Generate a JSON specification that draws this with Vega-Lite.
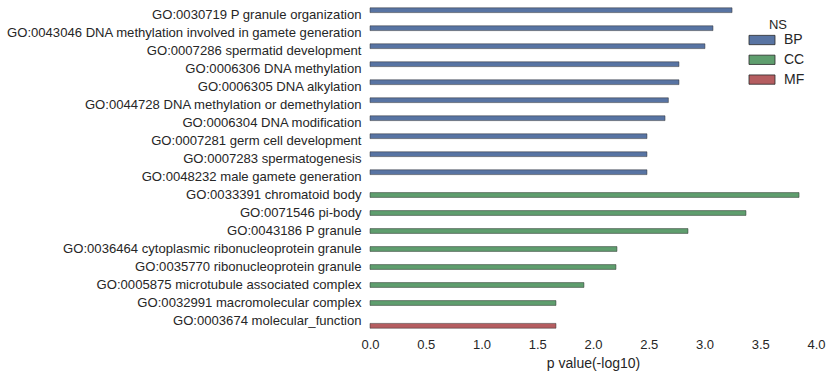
{
  "$schema": "https://vega.github.io/schema/vega-lite/v6.json",
  "width": 446,
  "height": 324,
  "autosize": {"type": "none"},
  "padding": {"left": 370, "top": 6, "right": 16, "bottom": 49},
  "config": {
    "view": {"stroke": null},
    "font": "Liberation Sans",
    "background": "white"
  },
  "data": {
    "values": [
      {"term": "GO:0030719 P granule organization", "NS": "BP", "p": 3.247},
      {"term": "GO:0043046 DNA methylation involved in gamete generation", "NS": "BP", "p": 3.076},
      {"term": "GO:0007286 spermatid development", "NS": "BP", "p": 3.004},
      {"term": "GO:0006306 DNA methylation", "NS": "BP", "p": 2.771},
      {"term": "GO:0006305 DNA alkylation", "NS": "BP", "p": 2.771},
      {"term": "GO:0044728 DNA methylation or demethylation", "NS": "BP", "p": 2.676},
      {"term": "GO:0006304 DNA modification", "NS": "BP", "p": 2.646},
      {"term": "GO:0007281 germ cell development", "NS": "BP", "p": 2.484},
      {"term": "GO:0007283 spermatogenesis", "NS": "BP", "p": 2.484},
      {"term": "GO:0048232 male gamete generation", "NS": "BP", "p": 2.484},
      {"term": "GO:0033391 chromatoid body", "NS": "CC", "p": 3.848},
      {"term": "GO:0071546 pi-body", "NS": "CC", "p": 3.372},
      {"term": "GO:0043186 P granule", "NS": "CC", "p": 2.852},
      {"term": "GO:0036464 cytoplasmic ribonucleoprotein granule", "NS": "CC", "p": 2.215},
      {"term": "GO:0035770 ribonucleoprotein granule", "NS": "CC", "p": 2.206},
      {"term": "GO:0005875 microtubule associated complex", "NS": "CC", "p": 1.919},
      {"term": "GO:0032991 macromolecular complex", "NS": "CC", "p": 1.668},
      {"term": "GO:0003674 molecular_function", "NS": "MF", "p": 1.668}
    ]
  },
  "mark": {"type": "bar", "stroke": "#2a2a2a", "strokeWidth": 0.8, "strokeOpacity": 0.6},
  "encoding": {
    "y": {
      "field": "term",
      "type": "nominal",
      "sort": null,
      "scale": {"paddingInner": 0.2, "paddingOuter": 0.1},
      "axis": {
        "title": null,
        "domain": false,
        "ticks": false,
        "labelPadding": 9,
        "labelFontSize": 13.1,
        "labelColor": "#262626",
        "labelLimit": 400
      }
    },
    "yOffset": {
      "field": "NS",
      "type": "nominal",
      "scale": {"domain": ["BP", "CC", "MF"], "paddingInner": 0, "paddingOuter": 0}
    },
    "x": {
      "field": "p",
      "type": "quantitative",
      "scale": {"domain": [0, 4], "nice": false},
      "axis": {
        "title": "p value(-log10)",
        "values": [0, 0.5, 1, 1.5, 2, 2.5, 3, 3.5, 4],
        "format": ".1f",
        "domain": false,
        "ticks": false,
        "grid": false,
        "labelPadding": 8,
        "labelFontSize": 13,
        "labelColor": "#262626",
        "labelFlush": false,
        "titleFontSize": 14,
        "titleFontWeight": "normal",
        "titleColor": "#262626",
        "titlePadding": 5
      }
    },
    "color": {
      "field": "NS",
      "type": "nominal",
      "scale": {"domain": ["BP", "CC", "MF"], "range": ["#5874A3", "#5F9E6E", "#B55D60"]},
      "legend": {
        "orient": "none",
        "legendX": 382,
        "legendY": 13,
        "padding": 0,
        "title": "NS",
        "titleFontSize": 13,
        "titleFontWeight": "normal",
        "titleColor": "#262626",
        "titleAnchor": "middle",
        "titlePadding": -2,
        "labelFontSize": 14,
        "labelColor": "#262626",
        "labelOffset": 12,
        "rowPadding": 2.8,
        "symbolType": "M-1.4,-0.5h2.8v1h-2.8z",
        "symbolSize": 345,
        "symbolStrokeColor": "#2a2a2a",
        "symbolStrokeWidth": 0.8,
        "symbolOpacity": 1
      }
    }
  }
}
